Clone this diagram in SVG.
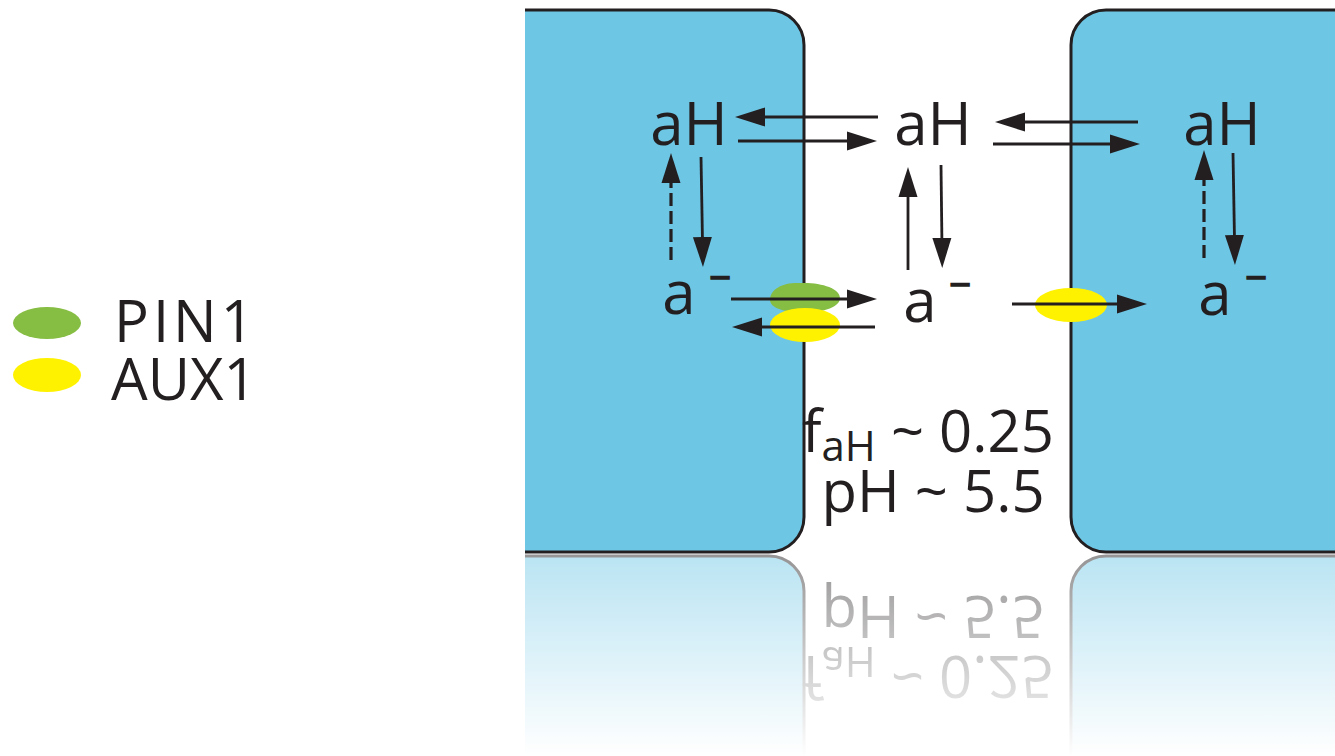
<svg xmlns="http://www.w3.org/2000/svg" xmlns:xlink="http://www.w3.org/1999/xlink" width="1335" height="756" viewBox="0 0 1335 756">
<style>
.cell{fill:#6ec6e5;stroke:#231f20;stroke-width:3}
.t{font-family:"Open Sans","Noto Sans","Liberation Sans",sans-serif;fill:#231f20}
.big{font-size:60px}
.minus{font-size:38px;stroke:#231f20;stroke-width:1.6}
.arr{stroke:#231f20;stroke-width:2.8;fill:none;marker-end:url(#head)}
.dash{stroke-dasharray:13 5;stroke-width:3.2}
.pin{fill:#86bd43}
.aux{fill:#fff200}
</style>
<defs>
<marker id="head" markerUnits="userSpaceOnUse" markerWidth="30" markerHeight="20" refX="10" refY="10" orient="auto" viewBox="0 0 30 20">
<path d="M0,0.5 L30,10 L0,19.5 Z" fill="#231f20"/>
</marker>
<linearGradient id="fadeGrad" gradientUnits="userSpaceOnUse" x1="0" y1="554" x2="0" y2="756">
<stop offset="0" stop-color="#fff" stop-opacity="0.48"/>
<stop offset="1" stop-color="#fff" stop-opacity="0"/>
</linearGradient>
<mask id="fade" maskUnits="userSpaceOnUse" x="0" y="554" width="1335" height="202">
<rect x="0" y="554" width="1335" height="202" fill="url(#fadeGrad)"/>
</mask>
</defs>

<g id="cells">
<path id="cell-left" class="cell" d="M525,10 H769 A35,35 0 0 1 804,45 V517 A35,35 0 0 1 769,552 H525"/>
<path id="cell-right" class="cell" d="M1336,10 H1106 A35,35 0 0 0 1071,45 V517 A35,35 0 0 0 1106,552 H1336"/>
</g>

<g id="conc">
<text class="t" x="802" y="452" font-size="58">f<tspan font-size="42" dy="9">aH</tspan><tspan dy="-9"> ~ 0.25</tspan></text>
<text class="t" x="933" y="512" font-size="58" text-anchor="middle">pH ~ 5.5</text>
</g>

<g id="reflection" mask="url(#fade)">
<g transform="translate(0,1108) scale(1,-1)">
<use xlink:href="#cells"/>
<use xlink:href="#conc"/>
</g>
</g>

<g id="transporters">
<path id="pin1-left" class="pin" d="M770,300 C770,288 785,282 800,283 C820,282 840,288 840,298 C840,308 820,313 805,312 C785,313 770,308 770,300 Z"/>
<ellipse id="aux1-left" class="aux" cx="805" cy="325" rx="35" ry="17"/>
<ellipse id="aux1-right" class="aux" cx="1071" cy="305" rx="36" ry="17"/>
</g>

<g id="node-aH-left"><text class="t big" x="689" y="145" text-anchor="middle">aH</text></g>
<g id="node-aH-mid"><text class="t big" x="933" y="145" text-anchor="middle">aH</text></g>
<g id="node-aH-right"><text class="t big" x="1222" y="145" text-anchor="middle">aH</text></g>
<g id="node-a-left"><text class="t big" x="679" y="314" text-anchor="middle">a<tspan class="minus" x="720" y="291" text-anchor="middle">−</tspan></text></g>
<g id="node-a-mid"><text class="t big" x="920" y="322" text-anchor="middle">a<tspan class="minus" x="960" y="298" text-anchor="middle">−</tspan></text></g>
<g id="node-a-right"><text class="t big" x="1215" y="315" text-anchor="middle">a<tspan class="minus" x="1256" y="291" text-anchor="middle">−</tspan></text></g>

<g id="connectors">
<path class="arr" d="M878,117 H755"/>
<path class="arr" d="M738,141 H857"/>
<path class="arr dash" d="M671,260 V173"/>
<path class="arr" d="M701,157 L702.6,247"/>
<path class="arr" d="M908,270 V187"/>
<path class="arr" d="M941,165 L942,248"/>
<path class="arr" d="M1138,122 H1015"/>
<path class="arr" d="M993,144 H1120"/>
<path class="arr dash" d="M1204,258 V170"/>
<path class="arr" d="M1233,153 L1234.6,245"/>
<path class="arr" d="M731,299 H857"/>
<path class="arr" d="M875,327 H752"/>
<path class="arr" d="M1012,304 H1127"/>
</g>

<g id="legend">
<ellipse class="pin" cx="47" cy="323" rx="34" ry="16"/>
<ellipse class="aux" cx="47" cy="375" rx="34" ry="17"/>
<text class="t" x="114" y="342" font-size="58" letter-spacing="4">PIN1</text>
<text class="t" x="111" y="400" font-size="58">AUX1</text>
</g>
</svg>
